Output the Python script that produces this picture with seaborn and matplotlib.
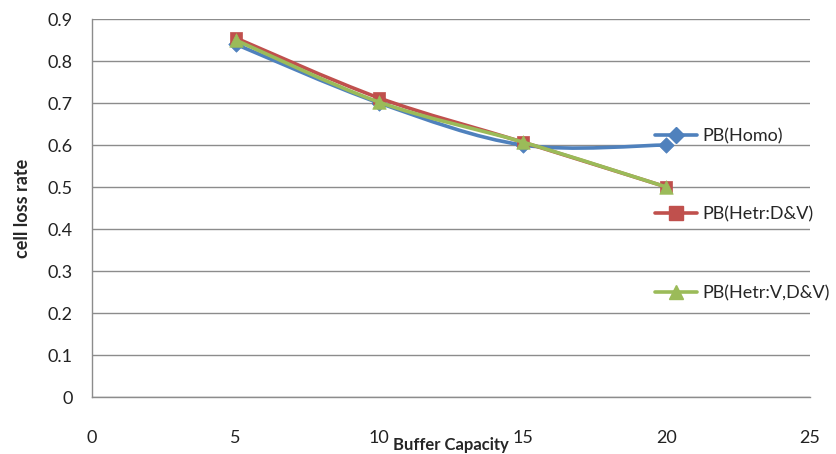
import numpy as np
import pandas as pd
import matplotlib
matplotlib.use("Agg")
import matplotlib.pyplot as plt
from matplotlib.path import Path
from matplotlib.patches import PathPatch
from matplotlib.lines import Line2D
import seaborn as sns

# Data
buffer_capacity = [5, 10, 15, 20]
pb_homo = [0.84, 0.70, 0.60, 0.60]
pb_hetr_dv = [0.855, 0.712, 0.607, 0.50]
pb_hetr_vdv = [0.85, 0.702, 0.607, 0.50]
series_names = ["PB(Homo)", "PB(Hetr:D&V)", "PB(Hetr:V,D&V)"]
series_values = [pb_homo, pb_hetr_dv, pb_hetr_vdv]
x_ticks = [0, 5, 10, 15, 20, 25]
y_ticks = [0, 0.1, 0.2, 0.3, 0.4, 0.5, 0.6, 0.7, 0.8, 0.9]

colors = ["#4F81BD", "#C0504D", "#9BBB59"]
markers = ["D", "s", "^"]
msizes = [62, 80, 95]

sns.set_theme(style="white")
plt.rcParams["font.family"] = ["Lato", "DejaVu Sans"]

df = pd.DataFrame({
    "Buffer Capacity": buffer_capacity * 3,
    "cell loss rate": pb_homo + pb_hetr_dv + pb_hetr_vdv,
    "series": sum([[n] * len(buffer_capacity) for n in series_names], []),
})

fig = plt.figure(figsize=(8.37, 4.54), dpi=100)
ax = fig.add_axes([92 / 837, 1 - 397 / 454, (810 - 92) / 837, (397 - 19) / 454])


def smooth_path(xs, ys):
    """Cubic Bezier path through the points (Catmull-Rom style tangents)."""
    pts = np.column_stack([xs, ys]).astype(float)
    n = len(pts)
    verts = [pts[0]]
    codes = [Path.MOVETO]
    for i in range(n - 1):
        p0 = pts[i - 1] if i > 0 else pts[i]
        p1 = pts[i]
        p2 = pts[i + 1]
        p3 = pts[i + 2] if i + 2 < n else pts[i + 1]
        c1 = p1 + (p2 - p0) / 6.0
        c2 = p2 - (p3 - p1) / 6.0
        verts += [c1, c2, p2]
        codes += [Path.CURVE4] * 3
    return Path(verts, codes)


for k, name in enumerate(series_names):
    sub = df[df["series"] == name]
    patch = PathPatch(smooth_path(sub["Buffer Capacity"], sub["cell loss rate"]),
                      facecolor="none", edgecolor=colors[k], lw=2.6,
                      capstyle="round", joinstyle="round", zorder=3 + 2 * k)
    ax.add_patch(patch)
    sns.scatterplot(data=sub, x="Buffer Capacity", y="cell loss rate", ax=ax,
                    marker=markers[k], s=msizes[k], color=colors[k],
                    edgecolor=colors[k], linewidth=0.5, zorder=4 + 2 * k,
                    legend=False)

ax.set_xlim(0, 25)
ax.set_ylim(0, 0.9)
ax.set_xticks(x_ticks)
ax.set_yticks(y_ticks)
ax.set_xticklabels([str(t) for t in x_ticks])
ax.set_yticklabels(["0" if t == 0 else f"{t:.1f}" for t in y_ticks])
ax.tick_params(axis="x", length=0, pad=24, labelsize=13, colors="#222222")
ax.tick_params(axis="y", length=0, pad=14, labelsize=13, colors="#222222")
ax.yaxis.grid(True, color="#8c8c8c", linewidth=1.0)
ax.xaxis.grid(False)
ax.set_axisbelow(True)
for side in ["top", "right"]:
    ax.spines[side].set_visible(False)
for side in ["left", "bottom"]:
    ax.spines[side].set_color("#8c8c8c")
    ax.spines[side].set_linewidth(1.0)

ax.set_xlabel("Buffer Capacity", fontsize=12, fontweight="bold", labelpad=-7)
ax.set_ylabel("cell loss rate", fontsize=13, fontweight="bold", labelpad=12)

handles = [Line2D([0], [0], color=colors[k], lw=2.6, marker=markers[k],
                  markersize=[8, 9.5, 10][k], markeredgecolor=colors[k])
           for k in range(3)]
leg = fig.legend(handles, series_names, loc="upper left",
                 bbox_to_anchor=(648 / 837, 1 - 121 / 454), frameon=False,
                 fontsize=13, labelspacing=3.45, handlelength=2.3,
                 handletextpad=0.3, borderaxespad=0)

fig.savefig("out.png", dpi=100, facecolor="white")
